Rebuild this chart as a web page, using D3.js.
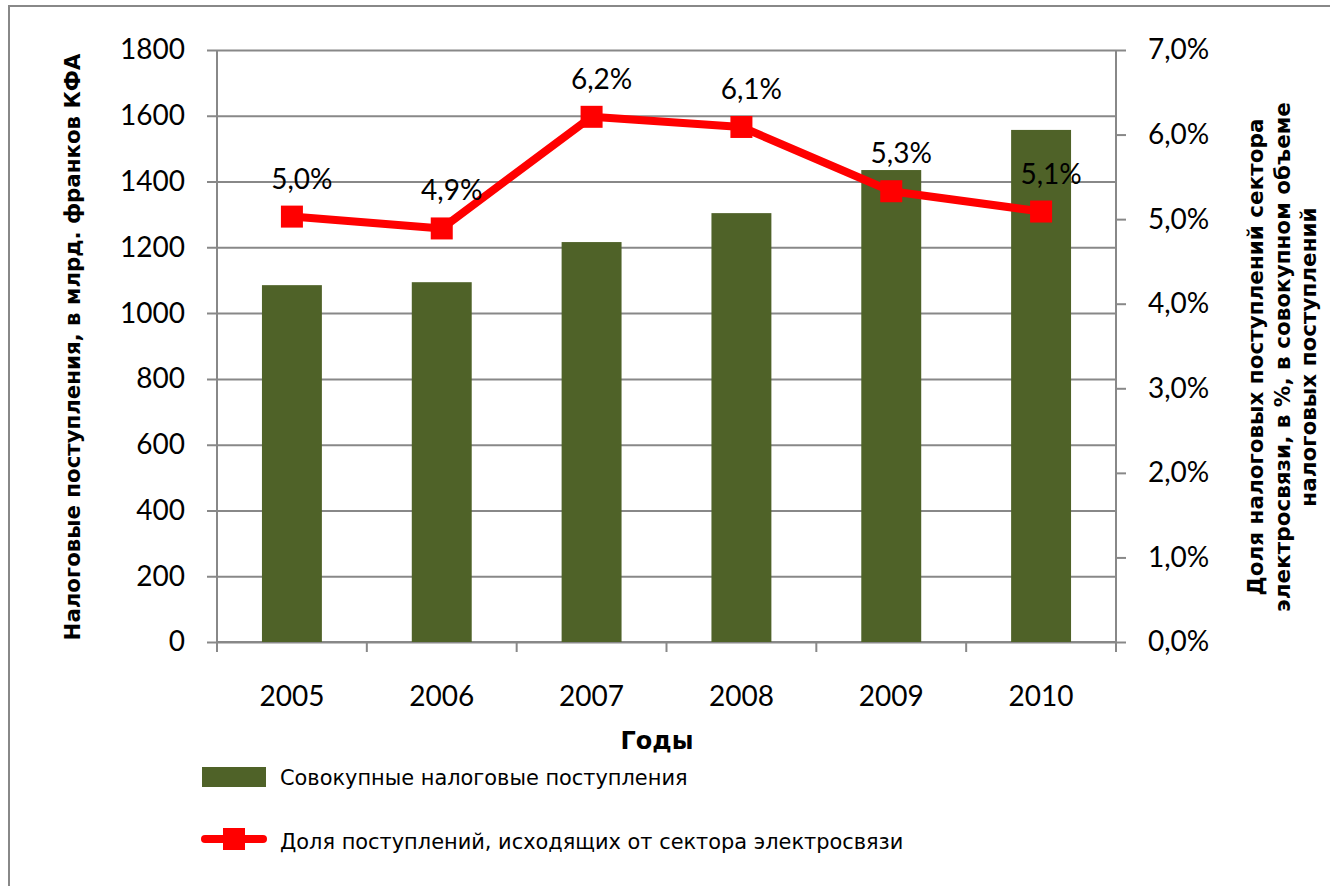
<!DOCTYPE html>
<html>
<head>
<meta charset="utf-8">
<script src="https://cdn.jsdelivr.net/npm/d3@7"></script>
<style>
  body { margin: 0; background: #fff; }
  svg { display: block; }
  .tick text { font-family: Lato, "Liberation Sans", sans-serif; fill: #000; }
</style>
</head>
<body>
<svg id="chart" width="1330" height="886"></svg>
<script>
// данные
const years = ["2005", "2006", "2007", "2008", "2009", "2010"];
const taxTotal = [1085, 1094, 1216, 1304, 1435, 1557];
const telecomShare = [5.03, 4.89, 6.21, 6.09, 5.33, 5.09];
const shareLabels = ["5,0%", "4,9%", "6,2%", "6,1%", "5,3%", "5,1%"];
const leftTicks = [0, 200, 400, 600, 800, 1000, 1200, 1400, 1600, 1800];
const rightTicks = [0, 1, 2, 3, 4, 5, 6, 7];
const legendNames = ["Совокупные налоговые поступления", "Доля поступлений, исходящих от сектора электросвязи"];

const plot = { left: 217, right: 1116, top: 50, bottom: 642 };
const gridColor = "#888888";
const barColor = "#4F6228";
const lineColor = "#FF0000";

const svg = d3.select("#chart");

// рамка области диаграммы
svg.append("rect").attr("x", 9).attr("y", 6).attr("width", 1340).attr("height", 900)
  .attr("fill", "none").attr("stroke", gridColor).attr("stroke-width", 2);

const x = d3.scaleBand().domain(years).range([plot.left, plot.right])
  .paddingInner(0.6).paddingOuter(0.3);
const y = d3.scaleLinear().domain([0, 1800]).range([plot.bottom, plot.top]);
const y2 = d3.scaleLinear().domain([0, 7]).range([plot.bottom, plot.top]);
const cx = d => x(d) + x.bandwidth() / 2;

// сетка + левая ось
const gLeft = svg.append("g").attr("transform", `translate(${plot.left},0)`)
  .call(d3.axisLeft(y).tickValues(leftTicks).tickSize(10).tickFormat(d3.format("d")))
  .call(g => g.select(".domain").remove());
gLeft.selectAll(".tick line").attr("x2", plot.right - plot.left).attr("x1", -10)
  .attr("stroke", gridColor).attr("stroke-width", 2);
gLeft.selectAll(".tick text").attr("x", -32).style("font-size", "28px");

// правая ось
const gRight = svg.append("g").attr("transform", `translate(${plot.right},0)`)
  .call(d3.axisRight(y2).tickValues(rightTicks).tickSize(10)
    .tickFormat(d => d.toFixed(1).replace(".", ",") + "%"));
gRight.select(".domain").attr("stroke", gridColor).attr("stroke-width", 2)
  .attr("d", `M0,${plot.top}V${plot.bottom + 10}`);
gRight.selectAll(".tick line").attr("stroke", gridColor).attr("stroke-width", 2);
gRight.selectAll(".tick text").attr("x", 32).style("font-size", "28px");

// левая линия оси
svg.append("line").attr("x1", plot.left).attr("x2", plot.left)
  .attr("y1", plot.top).attr("y2", plot.bottom + 10)
  .attr("stroke", gridColor).attr("stroke-width", 2);

// ось X
const gx = svg.append("g").attr("transform", `translate(0,${plot.bottom})`)
  .call(d3.axisBottom(x).tickSize(0).tickPadding(44))
  .call(g => g.select(".domain").remove());
gx.selectAll(".tick text").style("font-size", "28px");
svg.append("line").attr("x1", plot.left).attr("x2", plot.right)
  .attr("y1", plot.bottom).attr("y2", plot.bottom)
  .attr("stroke", gridColor).attr("stroke-width", 2);
svg.append("g").selectAll("line")
  .data(d3.range(years.length + 1))
  .join("line")
  .attr("x1", i => plot.left + i * x.step()).attr("x2", i => plot.left + i * x.step())
  .attr("y1", plot.bottom).attr("y2", plot.bottom + 10)
  .attr("stroke", gridColor).attr("stroke-width", 2);

// столбцы
svg.append("g").selectAll("rect")
  .data(years)
  .join("rect")
  .attr("x", d => x(d))
  .attr("width", x.bandwidth())
  .attr("y", (d, i) => y(taxTotal[i]))
  .attr("height", (d, i) => plot.bottom - y(taxTotal[i]))
  .attr("fill", barColor);

// линия доли
const line = d3.line().x((d, i) => cx(years[i])).y(d => y2(d));
svg.append("path").datum(telecomShare)
  .attr("d", line).attr("fill", "none")
  .attr("stroke", lineColor).attr("stroke-width", 8).attr("stroke-linejoin", "round");
svg.append("g").selectAll("rect")
  .data(telecomShare)
  .join("rect")
  .attr("x", (d, i) => cx(years[i]) - 11).attr("y", d => y2(d) - 11)
  .attr("width", 22).attr("height", 22).attr("fill", lineColor);

svg.append("g").selectAll("text")
  .data(telecomShare)
  .join("text")
  .attr("x", (d, i) => cx(years[i]) + 10)
  .attr("y", d => y2(d) - 28)
  .attr("text-anchor", "middle")
  .style("font-family", "Lato, 'Liberation Sans', sans-serif")
  .style("font-size", "28px")
  .text((d, i) => shareLabels[i]);

// подписи осей
const titleFont = "'DejaVu Sans', Verdana, sans-serif";
svg.append("text")
  .attr("transform", "translate(80,347) rotate(-90)")
  .attr("text-anchor", "middle")
  .style("font-family", titleFont).style("font-weight", "bold").style("font-size", "21.3px")
  .text("Налоговые поступления, в млрд. франков КФА");

const rightTitle = ["Доля налоговых поступлений сектора", "электросвязи, в %, в совокупном объеме", "налоговых поступлений"];
svg.append("g").selectAll("text")
  .data(rightTitle)
  .join("text")
  .attr("transform", (d, i) => `translate(${1263 + i * 26.5},357) rotate(-90)`)
  .attr("text-anchor", "middle")
  .style("font-family", titleFont).style("font-weight", "bold").style("font-size", "21.5px")
  .text(d => d);

svg.append("text")
  .attr("x", 657).attr("y", 749)
  .attr("text-anchor", "middle")
  .style("font-family", titleFont).style("font-weight", "bold").style("font-size", "24px")
  .text("Годы");

// легенда
const legendFont = "'DejaVu Sans', Verdana, sans-serif";
const lg = svg.append("g");
lg.append("rect").attr("x", 202).attr("y", 767).attr("width", 64).attr("height", 20).attr("fill", barColor);
lg.append("line").attr("x1", 205).attr("x2", 263).attr("y1", 839).attr("y2", 839)
  .attr("stroke", lineColor).attr("stroke-width", 8).attr("stroke-linecap", "round");
lg.append("rect").attr("x", 223).attr("y", 828).attr("width", 22).attr("height", 22).attr("fill", lineColor);
lg.selectAll("text.leg")
  .data(legendNames)
  .join("text")
  .attr("class", "leg")
  .attr("x", 280).attr("y", (d, i) => 785 + i * 64)
  .style("font-family", legendFont).style("font-size", "20.9px")
  .text(d => d);
</script>
</body>
</html>
